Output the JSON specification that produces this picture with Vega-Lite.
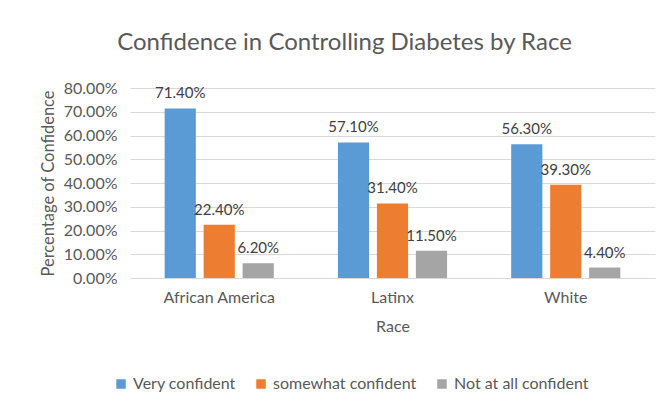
{
  "$schema": "https://vega.github.io/schema/vega-lite/v6.json",
  "width": 525,
  "height": 190,
  "autosize": {"type": "none"},
  "padding": {"left": 130, "top": 88, "right": 17, "bottom": 135},
  "background": "white",
  "config": {
    "font": "Lato",
    "view": {"stroke": null}
  },
  "title": {
    "text": "Confidence in Controlling Diabetes by Race",
    "fontSize": 24,
    "font": "Lato",
    "fontWeight": "normal",
    "color": "#595959",
    "anchor": "middle",
    "dx": -48,
    "offset": 25
  },
  "data": {
    "values": [
      {"race": "African America", "level": "Very confident", "value": 0.714},
      {"race": "African America", "level": "somewhat confident", "value": 0.224},
      {"race": "African America", "level": "Not at all confident", "value": 0.062},
      {"race": "Latinx", "level": "Very confident", "value": 0.571},
      {"race": "Latinx", "level": "somewhat confident", "value": 0.314},
      {"race": "Latinx", "level": "Not at all confident", "value": 0.115},
      {"race": "White", "level": "Very confident", "value": 0.563},
      {"race": "White", "level": "somewhat confident", "value": 0.393},
      {"race": "White", "level": "Not at all confident", "value": 0.044}
    ]
  },
  "encoding": {
    "x": {
      "field": "race",
      "type": "nominal",
      "sort": null,
      "scale": {"paddingInner": 0.37, "paddingOuter": 0.2},
      "axis": {
        "title": "Race",
        "labelAngle": 0,
        "labelFontSize": 16,
        "labelColor": "#595959",
        "labelPadding": 11,
        "titleFontSize": 16,
        "titleColor": "#595959",
        "titleFontWeight": "normal",
        "titlePadding": 13,
        "ticks": false,
        "domainColor": "#d9d9d9",
        "grid": false
      }
    },
    "xOffset": {
      "field": "level",
      "type": "nominal",
      "sort": ["Very confident", "somewhat confident", "Not at all confident"],
      "scale": {"paddingInner": 0.2}
    },
    "y": {
      "field": "value",
      "type": "quantitative",
      "scale": {"domain": [0, 0.8]},
      "axis": {
        "title": "Percentage of Confidence",
        "format": ".2%",
        "values": [0, 0.1, 0.2, 0.3, 0.4, 0.5, 0.6, 0.7, 0.8],
        "labelFontSize": 16,
        "labelColor": "#595959",
        "labelPadding": 13,
        "titleFontSize": 16.5,
        "titleColor": "#595959",
        "titleFontWeight": "normal",
        "titlePadding": 7,
        "ticks": false,
        "domain": false,
        "gridColor": "#d9d9d9"
      }
    }
  },
  "layer": [
    {
      "mark": {"type": "bar"},
      "encoding": {
        "color": {
          "field": "level",
          "type": "nominal",
          "sort": ["Very confident", "somewhat confident", "Not at all confident"],
          "scale": {
            "domain": ["Very confident", "somewhat confident", "Not at all confident"],
            "range": ["#5B9BD5", "#ED7D31", "#A5A5A5"]
          },
          "legend": {
            "title": null,
            "orient": "none",
            "direction": "horizontal",
            "legendX": -17,
            "legendY": 288,
            "symbolType": "square",
            "symbolSize": 90,
            "labelFontSize": 16,
            "labelColor": "#595959",
            "columnPadding": 17,
            "labelOffset": 4
          }
        }
      }
    },
    {
      "mark": {"type": "text", "baseline": "bottom", "dy": -7, "fontSize": 15, "color": "#404040"},
      "encoding": {
        "text": {"field": "value", "type": "quantitative", "format": ".2%"}
      }
    }
  ]
}
